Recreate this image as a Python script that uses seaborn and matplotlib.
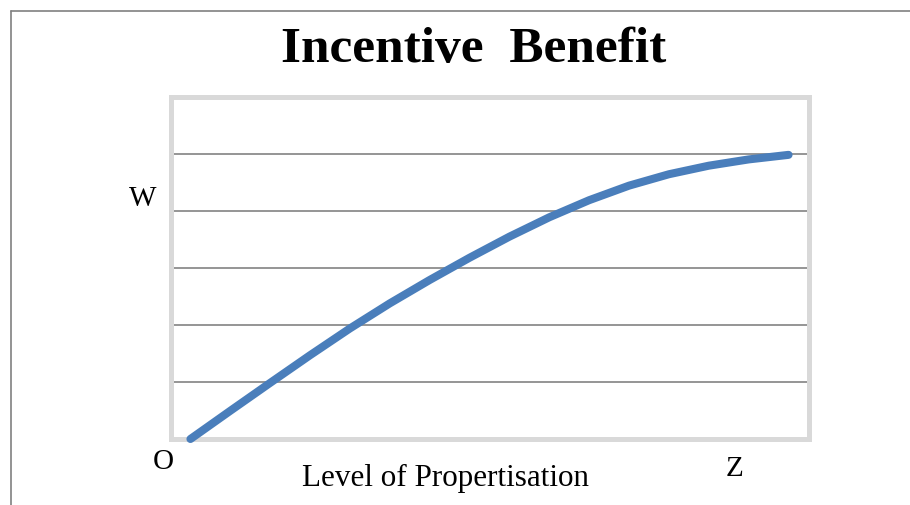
import matplotlib
matplotlib.use("Agg")
import matplotlib.pyplot as plt
import seaborn as sns
import pandas as pd
from matplotlib.lines import Line2D

# Data
categories = list(range(16))
benefit = [0.0, 0.495, 0.985, 1.47, 1.94, 2.38, 2.79, 3.18, 3.55, 3.89,
           4.19, 4.445, 4.645, 4.795, 4.905, 4.985]
title_text = "Incentive  Benefit"
x_label = "Level of Propertisation"
label_w = "W"
label_o = "O"
label_z = "Z"

sns.set_theme(style="white")
plt.rcParams['font.family'] = ['Liberation Serif', 'DejaVu Serif']
plt.rcParams['text.color'] = 'black'

df = pd.DataFrame({"level": categories, "benefit": benefit})

W, H = 910, 506
fig = plt.figure(figsize=(9.10, 5.06), dpi=100)
ax = fig.add_axes([170.5 / W, 1 - 440 / H, (808.5 - 170.5) / W, (440 - 98) / H])

for yv in [1, 2, 3, 4, 5]:
    ax.axhline(yv, color="#8c8c8c", lw=1.3, zorder=1)

sns.lineplot(data=df, x="level", y="benefit", ax=ax, color="#4a7ebb",
             linewidth=5.8, zorder=6, legend=False)
for ln in ax.get_lines()[5:]:
    ln.set_solid_capstyle("round")
    ln.set_solid_joinstyle("round")
    ln.set_clip_on(False)

ax.set_xlim(-0.5, 15.5)
ax.set_ylim(0, 6)
ax.set_xticks([])
ax.set_yticks([])
ax.set_xlabel("")
ax.set_ylabel("")
for s in ax.spines.values():
    s.set_color("#d9d9d9")
    s.set_linewidth(3.6)
    s.set_visible(True)
    s.set_zorder(4)

# Title and annotation text
fig.text(474 / W, 1 - 62 / H, title_text, ha="center", va="baseline",
         fontsize=37, fontweight="bold", color="black")
fig.text(445.5 / W, 1 - 478 / H, x_label, ha="center", va="center",
         fontsize=22.4, color="black")
fig.text(142.5 / W, 1 - 199 / H, label_w, ha="center", va="center",
         fontsize=21, color="black")
fig.text(163.5 / W, 1 - 462 / H, label_o, ha="center", va="center",
         fontsize=21, color="black")
fig.text(734.5 / W, 1 - 469 / H, label_z, ha="center", va="center",
         fontsize=21, color="black")

# Outer frame lines (top and left)
fig.add_artist(Line2D([10.5 / W, 1.0], [1 - 11.5 / H, 1 - 11.5 / H],
                      transform=fig.transFigure, color="#808080", lw=1.2))
fig.add_artist(Line2D([11 / W, 11 / W], [0, 1 - 11.5 / H],
                      transform=fig.transFigure, color="#808080", lw=1.2))

fig.savefig("out.png", dpi=100, facecolor="white")
